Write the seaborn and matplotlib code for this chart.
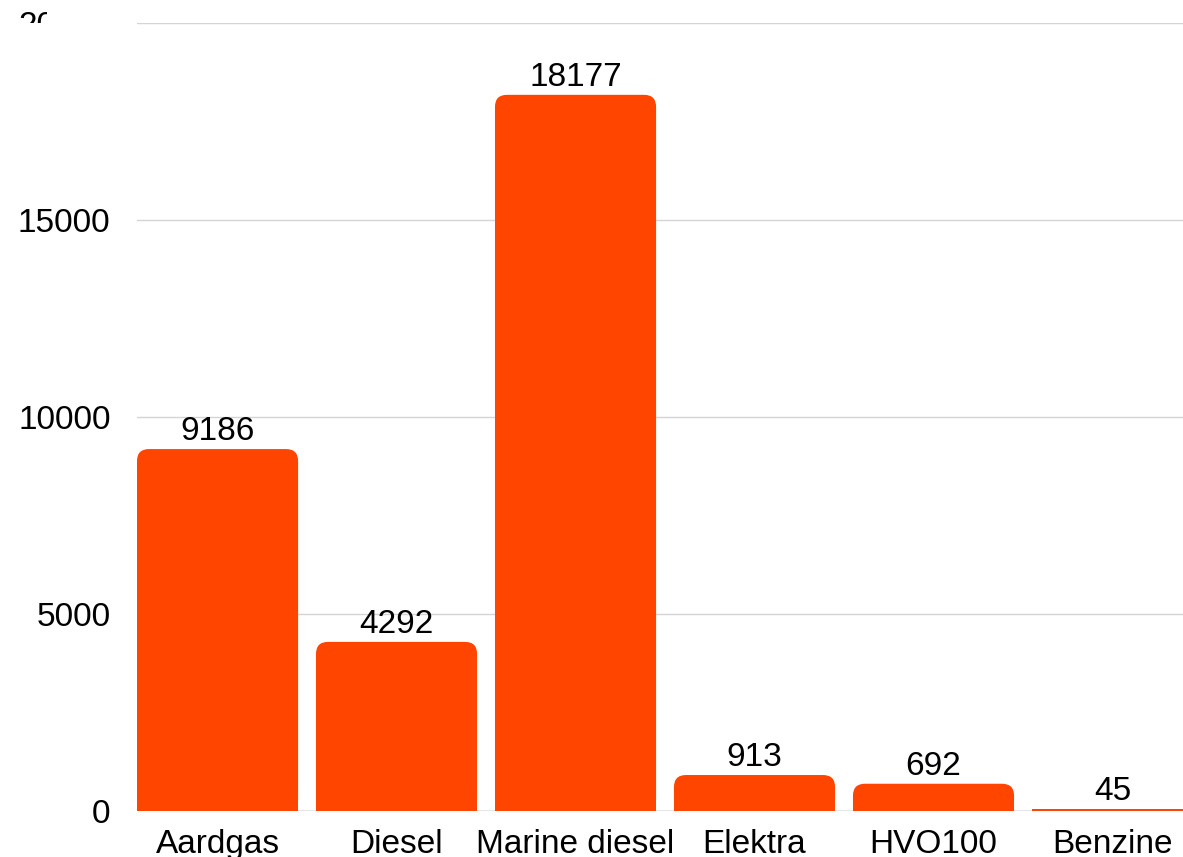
import matplotlib
matplotlib.use("Agg")
import numpy as np
import pandas as pd
import seaborn as sns
import matplotlib.pyplot as plt
from matplotlib.patches import FancyBboxPatch, Rectangle
from matplotlib.transforms import Bbox

# chart data
fuels = ["Aardgas", "Diesel", "Marine diesel", "Elektra", "HVO100", "Benzine"]
amounts = [9186, 4292, 18177, 913, 692, 45]
y_ticks = [0, 5000, 10000, 15000, 20000]

BAR_COLOR = "#FF4500"
W_PX, H_PX = 1183, 857
FS = 24

sns.set_style("white")
plt.rcParams["font.family"] = ["Liberation Sans", "DejaVu Sans"]

df = pd.DataFrame({"fuel": fuels, "amount": amounts})

fig = plt.figure(figsize=(W_PX / 100, H_PX / 100), dpi=100)
# plot area runs past the right edge of the picture (chart is cropped)
ax = fig.add_axes([137 / W_PX, 46 / H_PX, (1202 - 137) / W_PX, 788 / H_PX])

sns.barplot(data=df, x="fuel", y="amount", color=BAR_COLOR, saturation=1,
            width=0.9, ax=ax, zorder=3)

ax.set_xlim(-0.45, 5.5)
ax.set_ylim(0, 20000)

# swap plain bars for bars with rounded top corners
x_per_px = 5.95 / 1065
y_per_px = 20000 / 788
r_px = 12
for bar in ax.containers[0]:
    bx, bw, bh = bar.get_x(), bar.get_width(), bar.get_height()
    bar.set_visible(False)
    if bh / y_per_px > 2 * r_px:
        ax.add_patch(FancyBboxPatch((bx, 0), bw, bh,
                                    boxstyle=f"round,pad=0,rounding_size={r_px * x_per_px}",
                                    mutation_aspect=y_per_px / x_per_px,
                                    fc=BAR_COLOR, ec="none", zorder=3))
        ax.add_patch(Rectangle((bx, 0), bw, r_px * y_per_px, fc=BAR_COLOR,
                               ec="none", zorder=3))
    else:
        ax.add_patch(Rectangle((bx, 0), bw, bh, fc=BAR_COLOR, ec="none", zorder=3))

ax.bar_label(ax.containers[0], labels=[str(v) for v in amounts], padding=1.5,
             fontsize=FS, color="black")

ax.set_yticks(y_ticks)
ax.set_yticklabels([str(t) for t in y_ticks])
ax.yaxis.grid(True, color="#d4d4d4", linewidth=1, zorder=0)
ax.axhline(0, color="#a0a0a0", linewidth=1, zorder=1)
ax.tick_params(axis="y", length=0, pad=19, labelsize=FS, labelcolor="black")
ax.tick_params(axis="x", length=0, pad=13, labelsize=FS, labelcolor="black")
ax.set_xlabel("")
ax.set_ylabel("")
sns.despine(ax=ax, left=True, bottom=True)

# top tick label is only partly visible in the cropped original
top_lbl = ax.get_yticklabels()[-1]
top_lbl.set_clip_box(Bbox.from_extents(0, H_PX - 23, 47, H_PX))
top_lbl.set_clip_on(True)

fig.savefig("out.png", dpi=100)
